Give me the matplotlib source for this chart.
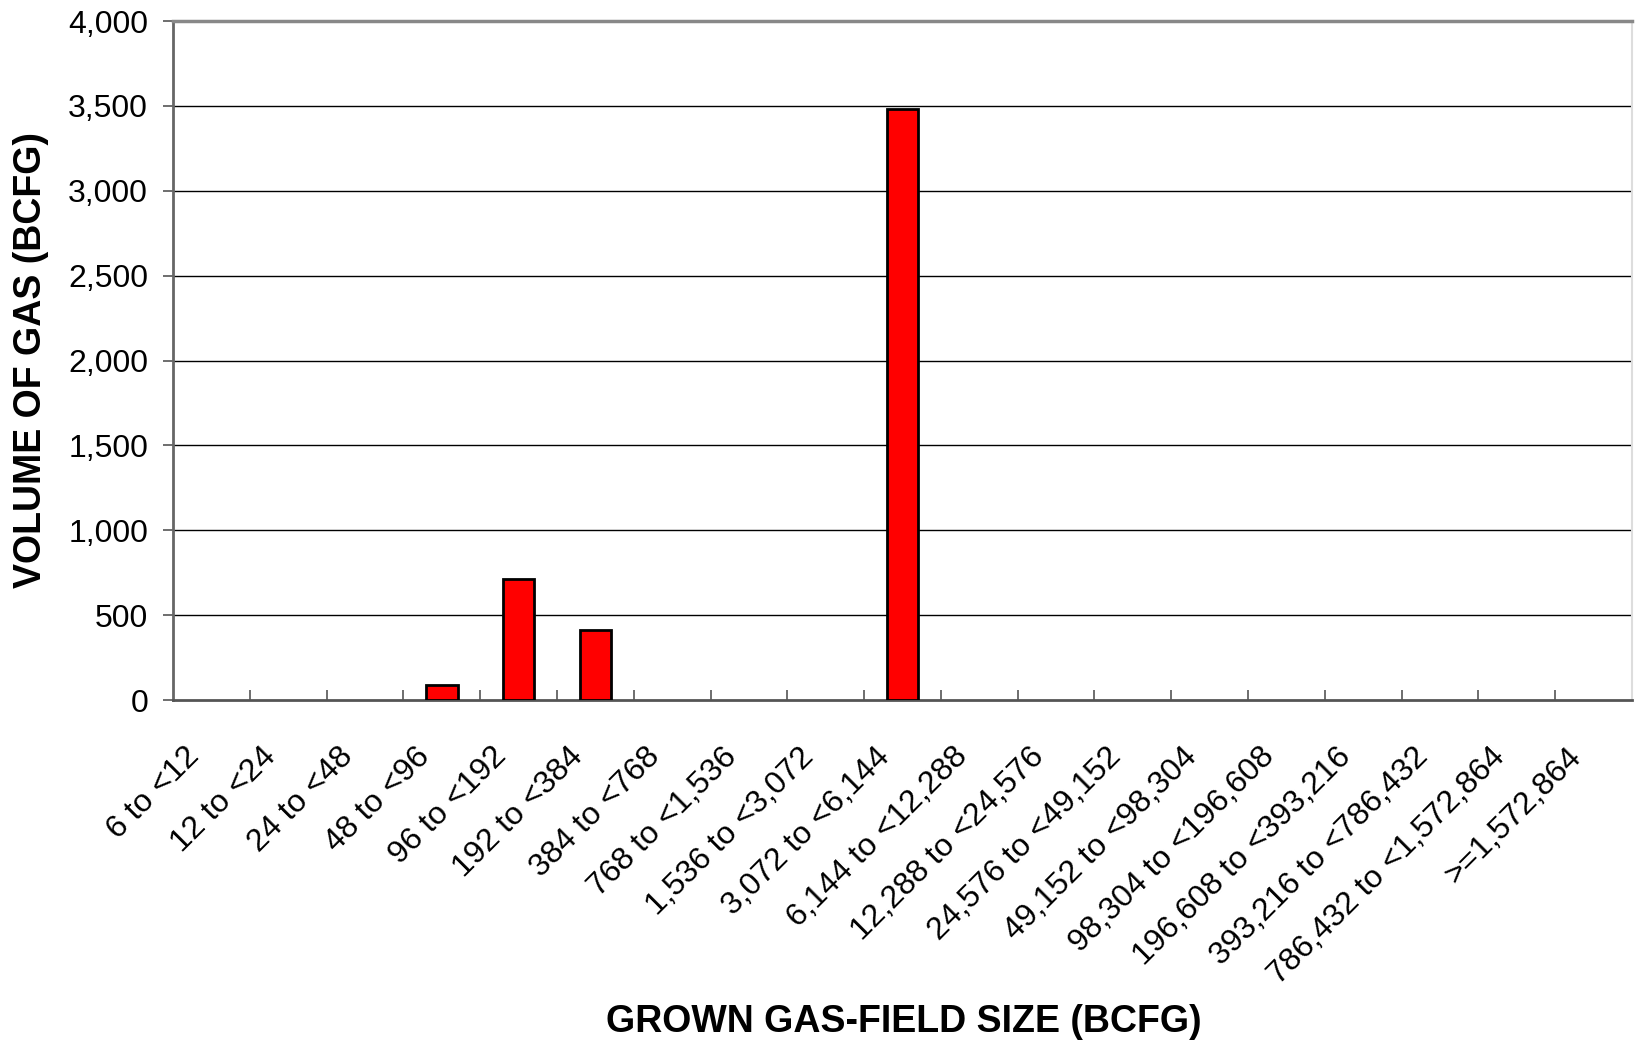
import matplotlib
matplotlib.use("Agg")
import matplotlib.pyplot as plt
import matplotlib.transforms as mtransforms
from matplotlib.ticker import FuncFormatter, FixedLocator

categories = ["6 to <12", "12 to <24", "24 to <48", "48 to <96", "96 to <192",
              "192 to <384", "384 to <768", "768 to <1,536", "1,536 to <3,072",
              "3,072 to <6,144", "6,144 to <12,288", "12,288 to <24,576",
              "24,576 to <49,152", "49,152 to <98,304", "98,304 to <196,608",
              "196,608 to <393,216", "393,216 to <786,432", "786,432 to <1,572,864",
              ">=1,572,864"]
volumes = [0, 0, 0, 90, 710, 415, 0, 0, 0, 3480, 0, 0, 0, 0, 0, 0, 0, 0, 0]
y_ticks = [0, 500, 1000, 1500, 2000, 2500, 3000, 3500, 4000]

plt.rcParams['font.family'] = ['Liberation Sans', 'DejaVu Sans']

W, H = 1635, 1045
fig = plt.figure(figsize=(W / 100, H / 100), dpi=100)
ax = fig.add_axes([173 / W, (H - 700) / H, (1632 - 173) / W, (700 - 21) / H])

n = len(categories)
x = list(range(n))
bars = [(i, v) for i, v in zip(x, volumes) if v > 0]
ax.bar([b[0] for b in bars], [b[1] for b in bars], width=0.41,
       color='#ff0000', edgecolor='black', linewidth=2, zorder=3)

ax.set_xlim(-0.5, n - 0.5)
ax.set_ylim(0, 4000)

# gridlines
for yv in y_ticks[1:-1]:
    ax.axhline(yv, color='black', linewidth=1.0, zorder=1)

ax.yaxis.set_major_locator(FixedLocator(y_ticks))
ax.yaxis.set_major_formatter(FuncFormatter(lambda v, p: f"{int(v):,}"))
ax.tick_params(axis='y', direction='out', length=7, width=1.2, color='#555555',
               labelsize=23, pad=11, labelcolor='black')

# x: minor ticks at boundaries (inward), labels at centers
ax.set_xticks(x)
ax.set_xticklabels(categories, rotation=45, ha='right', fontsize=23)
ax.tick_params(axis='x', which='major', length=0, pad=30)
ax.set_xticks([i + 0.5 for i in range(n - 1)], minor=True)
ax.tick_params(axis='x', which='minor', direction='in', length=7, width=1.2,
               color='#555555')
offset = mtransforms.ScaledTranslation(-6 / 100, 0, fig.dpi_scale_trans)
for lbl in ax.get_xticklabels():
    lbl.set_transform(lbl.get_transform() + offset)

for side, col, lw in [('left', '#666666', 2), ('bottom', '#555555', 2),
                      ('top', '#888888', 2.5), ('right', '#dddddd', 1.5)]:
    ax.spines[side].set_color(col)
    ax.spines[side].set_linewidth(lw)

fig.text(31 / W, 1 - 360 / H, "VOLUME OF GAS (BCFG)", rotation=90, ha='center',
         va='center', fontsize=27, fontweight='bold')
fig.text(904 / W, 1 - 1022 / H, "GROWN GAS-FIELD SIZE (BCFG)", ha='center',
         va='center', fontsize=27, fontweight='bold')

fig.savefig("out.png", dpi=100, facecolor='white')
